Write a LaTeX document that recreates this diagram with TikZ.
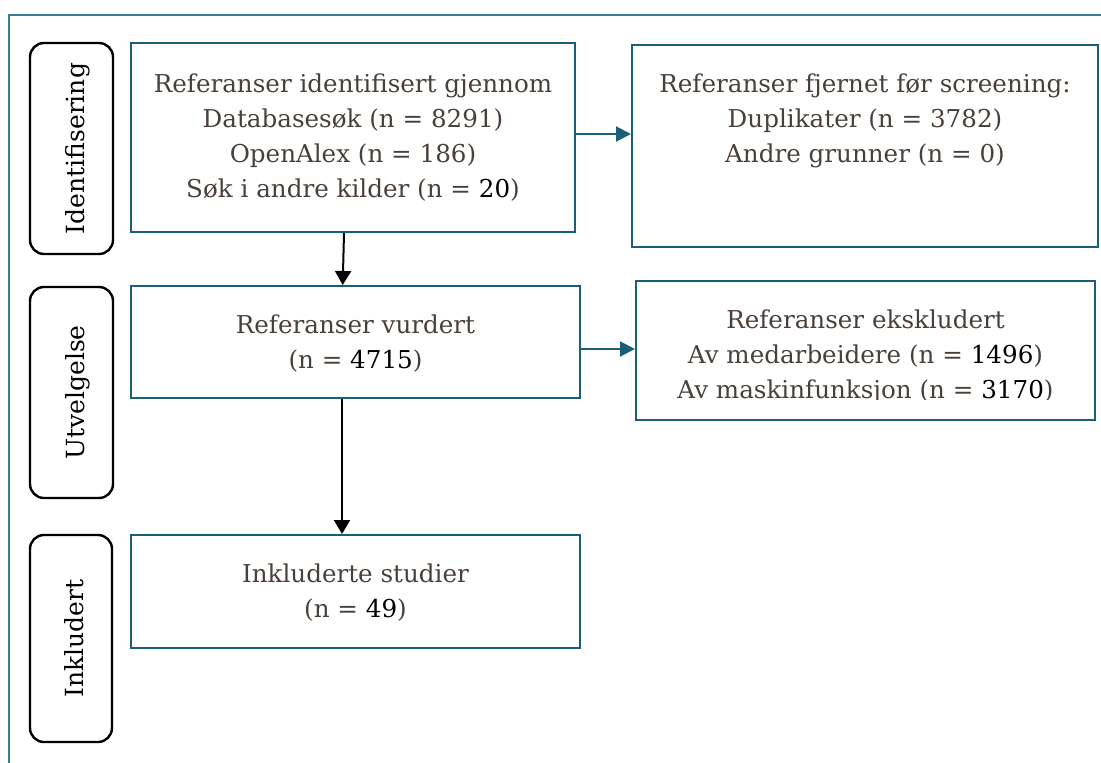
\documentclass[tikz,border=0pt]{standalone}
\usepackage{fontspec}
\setmainfont{DejaVu Serif}
\usetikzlibrary{arrows.meta}
\definecolor{teal1}{HTML}{1B5E78}
\definecolor{frameteal}{HTML}{3A7F95}
\definecolor{txt}{HTML}{4A403A}
\tikzset{
  mainbox/.style={draw=teal1, line width=2pt, minimum width=#1, inner sep=0pt},
  sidebox/.style={draw=black, line width=2.4pt, rounded corners=14pt, inner sep=0pt},
  boxtext/.style={text=txt, align=center, font=\fontsize{24.6}{35}\selectfont, inner sep=0pt},
  sidetext/.style={text=black, font=\fontsize{25}{30}\selectfont, rotate=90, inner sep=0pt, anchor=base},
  blkarrow/.style={draw=black, line width=2pt, -{Triangle[length=14pt,width=16pt]}},
  tealarrow/.style={draw=teal1, line width=2pt, -{Triangle[length=15pt,width=15pt]}}
}
\begin{document}
\begin{tikzpicture}[x=1pt,y=-1pt]
\useasboundingbox (0,0) rectangle (1101,763);
\begin{scope}
\clip (0,0) rectangle (1101,763);
\draw[frameteal, line width=1.6pt] (9,780) -- (9,15) -- (1120,15);
\end{scope}
% side labels
\node[sidebox, minimum width=83pt, minimum height=211pt] (s1) at (71.5,148.5) {};
\node[sidetext] (s1t) at (84.5,148.5) {Identifisering};
\node[sidebox, minimum width=83pt, minimum height=211pt] (s2) at (71.5,392.5) {};
\node[sidetext] (s2t) at (84.5,392.5) {Utvelgelse};
\node[sidebox, minimum width=82pt, minimum height=207pt] (s3) at (71,638.5) {};
\node[sidetext] (s3t) at (83.5,638.5) {Inkludert};
% main boxes
\node[mainbox=444pt, minimum height=189pt] (b1) at (353,137.5) {};
\node[boxtext, anchor=north] (b1t) at (353,73.3) {Referanser identifisert gjennom\\Databasesøk (n = 8291)\\OpenAlex (n = 186)\\Søk i andre kilder (n = \textcolor{black}{20})};
\node[mainbox=466pt, minimum height=202pt] (r1) at (865,146) {};
\node[boxtext, anchor=north] (r1t) at (865,73.3) {Referanser fjernet før screening:\\Duplikater (n = 3782)\\Andre grunner (n = 0)};
\node[mainbox=449pt, minimum height=112pt] (b2) at (355.5,342) {};
\node[boxtext, anchor=north] (b2t) at (355.5,314.3) {Referanser vurdert\\(n = \textcolor{black}{4715})};
\node[mainbox=459pt, minimum height=139pt] (r2) at (865.5,350.5) {};
\begin{scope}
\clip (600,200) rectangle (1101,399.5);
\node[boxtext, anchor=north] (r2t) at (865.5,309.3) {Referanser ekskludert\\Av medarbeidere (n = \textcolor{black}{1496})\\Av maskinfunksjon (n = \textcolor{black}{3170})};
\end{scope}
\node[mainbox=449pt, minimum height=113pt] (b3) at (355.5,591.5) {};
\node[boxtext, anchor=north] (b3t) at (355.5,563.3) {Inkluderte studier\\(n = \textcolor{black}{49})};
% connectors
\coordinate (y1) at (0,134);
\coordinate (y2) at (0,349);
\draw[blkarrow] ([xshift=-9pt]b1.south) -- ([xshift=-12.8pt]b2.north);
\draw[blkarrow] ([xshift=-13.5pt]b2.south) -- ([xshift=-13.5pt]b3.north);
\draw[tealarrow] (b1.east |- y1) -- (r1.west |- y1);
\draw[tealarrow] (b2.east |- y2) -- (r2.west |- y2);
\end{tikzpicture}
\end{document}
